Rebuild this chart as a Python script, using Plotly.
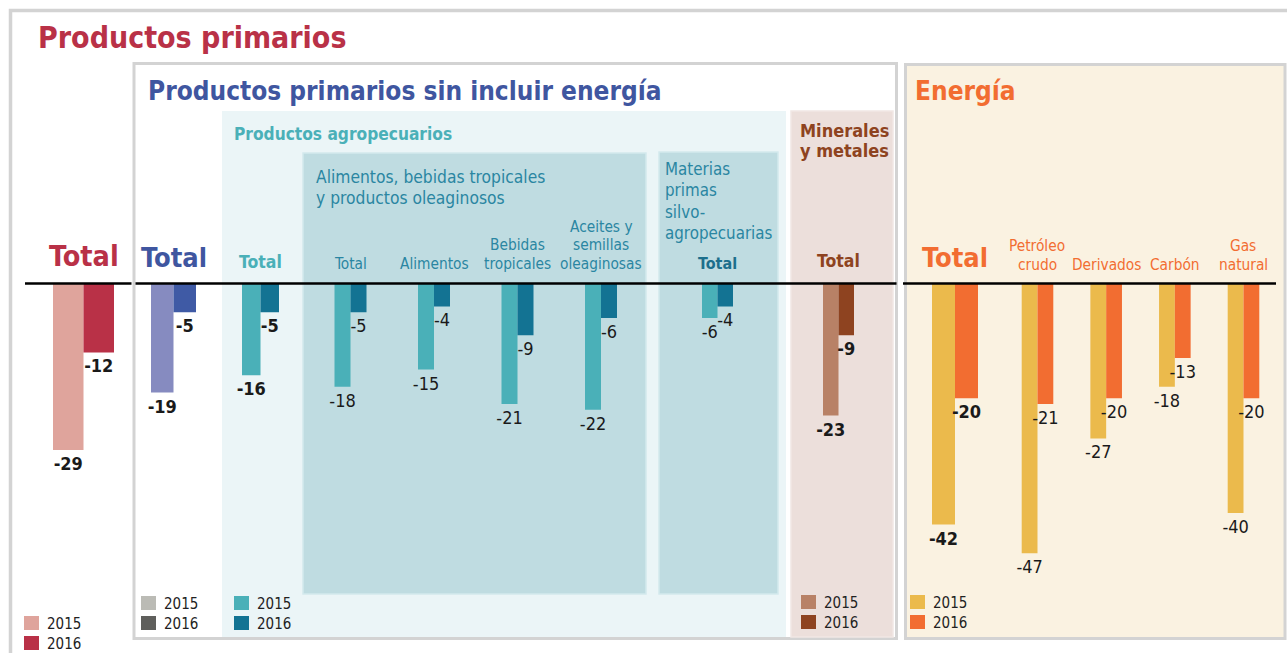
import plotly.graph_objects as go

# ---------------- data ----------------
years = ["2015", "2016"]

pp_cat = ["Total"]
pp_2015 = [-29]
pp_2016 = [-12]

sin_cat = ["Total"]
sin_2015 = [-19]
sin_2016 = [-5]

agro_cat = ["Total"]
agro_2015 = [-16]
agro_2016 = [-5]

alim_cat = ["Total", "Alimentos", "Bebidas<br>tropicales", "Aceites y<br>semillas<br>oleaginosas"]
alim_2015 = [-18, -15, -21, -22]
alim_2016 = [-5, -4, -9, -6]

mat_cat = ["Total"]
mat_2015 = [-6]
mat_2016 = [-4]

min_cat = ["Total"]
min_2015 = [-23]
min_2016 = [-9]

en_cat = ["Total"]
en_2015 = [-42]
en_2016 = [-20]

ensub_cat = ["Petróleo<br>crudo", "Derivados", "Carbón", "Gas<br>natural"]
ensub_2015 = [-47, -27, -18, -40]
ensub_2016 = [-21, -20, -13, -20]

# ---------------- styling ----------------
W, H = 1287, 653
FONT = "'DejaVu Sans Condensed', 'Liberation Sans Narrow', 'Arial Narrow', sans-serif"
INK = "#1a1a1a"

C_PP = ("#dfa49c", "#b93147")
C_SIN = ("#868bc0", "#3f5aa5")
C_AGRO = ("#4ab0b8", "#137393")
C_MIN = ("#b88166", "#8e4320")
C_EN = ("#ebba4c", "#f26d31")
C_GREY = ("#bbbbb5", "#5f5f5c")

def fx(px):
    return px / W

def fy(py):
    return 1 - py / H

panels = [
    dict(cats=pp_cat, v15=pp_2015, v16=pp_2016, col=C_PP, c0=83.5, c1=83.5, bw=30.5,
         vbold=True, vsize=18, lsize=28.5, lbold=True, lcol="#b93147", ysh=9),
    dict(cats=sin_cat, v15=sin_2015, v16=sin_2016, col=C_SIN, c0=173.5, c1=173.5, bw=22.5,
         vbold=True, vsize=18, lsize=27, lbold=True, lcol="#3f56a0", ysh=9),
    dict(cats=agro_cat, v15=agro_2015, v16=agro_2016, col=C_AGRO, c0=260.5, c1=260.5, bw=18.5,
         vbold=True, vsize=18, lsize=17.5, lbold=True, lcol="#4ab0b8", ysh=10),
    dict(cats=alim_cat, v15=alim_2015, v16=alim_2016, col=C_AGRO, c0=350.5, c1=601, bw=16,
         vbold=False, vsize=18, lsize=15.3, lbold=False, lcol="#2a86a2", ysh=9),
    dict(cats=mat_cat, v15=mat_2015, v16=mat_2016, col=C_AGRO, c0=717.5, c1=717.5, bw=15.5,
         vbold=False, vsize=18, lsize=16, lbold=True, lcol="#1d6f8c", ysh=9),
    dict(cats=min_cat, v15=min_2015, v16=min_2016, col=C_MIN, c0=838.5, c1=838.5, bw=15.5,
         vbold=True, vsize=18, lsize=17.5, lbold=True, lcol="#8e4320", ysh=11),
    dict(cats=en_cat, v15=en_2015, v16=en_2016, col=C_EN, c0=955, c1=955, bw=23,
         vbold=True, vsize=18, lsize=27, lbold=True, lcol="#f26d31", ysh=9),
    dict(cats=ensub_cat, v15=ensub_2015, v16=ensub_2016, col=C_EN, c0=1037.5, c1=1243.5, bw=15.8,
         vbold=False, vsize=18, lsize=15.3, lbold=False, lcol="#f26d31", ysh=8),
]

BASE_PX = 283.5      # pixel row of value 0
PX_PER_UNIT = 5.74

fig = go.Figure()
layout_axes = {}
annotations = []
shapes = []

for i, p in enumerate(panels):
    n = len(p["cats"])
    spacing = 80.0 if n == 1 else (p["c1"] - p["c0"]) / (n - 1)
    d0 = p["c0"] - spacing / 2
    d1 = p["c1"] + spacing / 2
    w = p["bw"] / spacing
    ax = "x" if i == 0 else f"x{i + 1}"
    key = "xaxis" if i == 0 else f"xaxis{i + 1}"
    layout_axes[key] = dict(domain=[fx(d0), fx(d1)], anchor="y", type="category",
                            range=[-0.5, n - 0.5], visible=False, fixedrange=True)
    vfont = dict(family=FONT, size=p["vsize"], color=INK,
                 weight="bold" if p["vbold"] else "normal")
    for yr, vals, col, off in ((years[0], p["v15"], p["col"][0], -w),
                               (years[1], p["v16"], p["col"][1], 0.0)):
        fig.add_trace(go.Bar(
            x=p["cats"], y=vals, name=yr, xaxis=ax, yaxis="y",
            marker=dict(color=col, line=dict(width=0)),
            width=[w] * n, offset=[off] * n,
            text=[str(v) for v in vals], textposition="outside",
            textfont=vfont, constraintext="none", cliponaxis=False,
            showlegend=False, hoverinfo="skip"))
    # category labels above the baseline, one annotation per line for tight leading
    lh = 18.5
    for cat in p["cats"]:
        lines = cat.split("<br>")
        for k, line in enumerate(reversed(lines)):
            annotations.append(dict(
                x=cat, xref=ax, y=0, yref="y", yanchor="bottom", xanchor="center",
                yshift=p["ysh"] + k * lh, text=line, showarrow=False,
                font=dict(family=FONT, size=p["lsize"], color=p["lcol"],
                          weight="bold" if p["lbold"] else "normal")))

# ---------------- panels / boxes ----------------
def rect(x0, y0, x1, y1, fill=None, line=None, lw=0, layer="below"):
    shapes.append(dict(type="rect", xref="paper", yref="paper",
                       x0=fx(x0), x1=fx(x1), y0=fy(y1), y1=fy(y0),
                       fillcolor=fill or "rgba(0,0,0,0)",
                       line=dict(color=line or "rgba(0,0,0,0)", width=lw), layer=layer))

BORDER = "#d3d3d3"
rect(10.5, 10.5, 1320, 680, fill="white", line=BORDER, lw=3.5)
rect(134, 63.5, 896.5, 638.5, fill="white", line=BORDER, lw=3)
rect(222, 111, 786, 637, fill="#ebf5f7")
rect(303, 153, 646, 594, fill="#bfdce1", line="#d4e9ed", lw=1.5)
rect(659, 152, 778, 594, fill="#bfdce1", line="#d4e9ed", lw=1.5)
rect(791, 111, 893, 637, fill="#ecdfdb", line="#f1e8e5", lw=1.5)
rect(905.5, 64.5, 1285, 638.5, fill="#faf2e1", line=BORDER, lw=3)

# baseline (value 0) in segments between the box borders
for a, b in ((25, 131.5), (135.5, 896.5), (903, 1276)):
    shapes.append(dict(type="line", xref="paper", yref="y", x0=fx(a), x1=fx(b), y0=0, y1=0,
                       line=dict(color="black", width=2.5), layer="above"))

# ---------------- titles ----------------
def text(x, y, s, size, color, bold=False, xanchor="left"):
    annotations.append(dict(x=fx(x), y=fy(y), xref="paper", yref="paper", xanchor=xanchor,
                            yanchor="middle", text=s, showarrow=False,
                            font=dict(family=FONT, size=size, color=color,
                                      weight="bold" if bold else "normal")))

text(36, 38, "Productos primarios", 30, "#b93147", True)
text(146, 91, "Productos primarios sin incluir energía", 26, "#3f56a0", True)
text(913, 91, "Energía", 26, "#f26d31", True)
text(232, 134, "Productos agropecuarios", 17.2, "#4ab0b8", True)
for k, s in enumerate(["Alimentos, bebidas tropicales", "y productos oleaginosos"]):
    text(314, 177 + k * 21, s, 17.3, "#2a86a2")
for k, s in enumerate(["Materias", "primas", "silvo-", "agropecuarias"]):
    text(663, 169 + k * 21.3, s, 16.8, "#2a86a2")
for k, s in enumerate(["Minerales", "y metales"]):
    text(798, 130 + k * 21, s, 18, "#8e4320", True)

# ---------------- legends (one per group) ----------------
legends = [
    (24, 616, C_PP),
    (141, 596, C_GREY),
    (234, 596, C_AGRO),
    (801, 595, C_MIN),
    (910, 595, C_EN),
]
for lx, ly, cols in legends:
    for k, (yr, col) in enumerate(zip(years, cols)):
        top = ly + k * 20
        rect(lx, top, lx + 15, top + 14, fill=col, layer="above")
        text(lx + 21, top + 7.5, yr, 15, "#222222")

fig.update_layout(
    width=W, height=H, margin=dict(l=0, r=0, t=0, b=0),
    paper_bgcolor="white", plot_bgcolor="rgba(0,0,0,0)",
    barmode="overlay", showlegend=False,
    yaxis=dict(domain=[0, 1],
               range=[-(H - BASE_PX) / PX_PER_UNIT, BASE_PX / PX_PER_UNIT],
               visible=False, fixedrange=True),
    shapes=shapes, annotations=annotations,
    font=dict(family=FONT),
    **layout_axes,
)

fig.write_html("out.html", config={"displayModeBar": False},
               post_script="document.body.style.margin='0';document.body.style.overflow='hidden';")
